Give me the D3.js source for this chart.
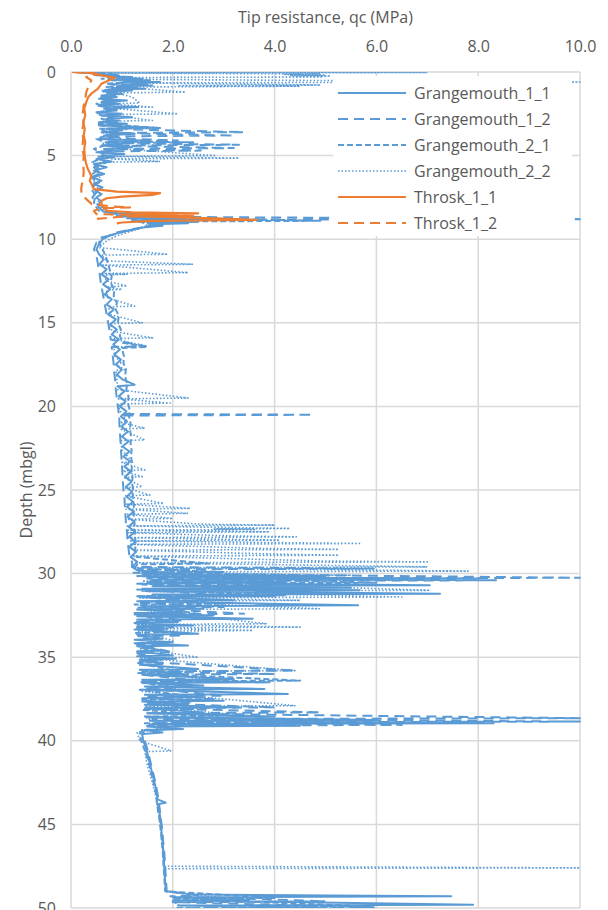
<!DOCTYPE html>
<html>
<head>
<meta charset="utf-8">
<script src="https://cdn.jsdelivr.net/npm/d3@7"></script>
<style>
  body { margin: 0; background: #fff; }
  svg text { font-family: "Open Sans", sans-serif; fill: #595959; }
</style>
</head>
<body>
<script>
// axis ticks
const xTicks = [0, 2, 4, 6, 8, 10];
const yTicks = [0, 5, 10, 15, 20, 25, 30, 35, 40, 45, 50];
const seriesNames = ["Grangemouth_1_1", "Grangemouth_1_2", "Grangemouth_2_1", "Grangemouth_2_2", "Throsk_1_1", "Throsk_1_2"];

// profiles, each point is [depth (m), qc (MPa)]
const grangemouth_1_1 = [
  [0.0,0.05],[0.05,0.3],[0.1,0.6],[0.15,0.45],[0.2,0.9],[0.25,0.7],[0.3,1.2],[0.35,0.9],[0.4,1.4],[0.45,1.0],
  [0.5,1.55],[0.55,1.1],[0.6,1.75],[0.65,1.2],[0.7,1.5],[0.75,1.0],[0.8,1.6],[0.85,0.9],[0.9,1.3],[0.95,0.8],
  [1.0,1.45],[1.05,0.75],[1.1,1.2],[1.2,0.7],[1.3,1.0],[1.4,0.6],[1.5,0.9],[1.6,0.55],[1.7,1.1],[1.8,0.6],
  [1.9,0.95],[2.0,0.55],[2.1,1.3],[2.2,0.65],[2.3,0.9],[2.4,0.5],[2.5,1.0],[2.6,0.6],[2.7,1.2],[2.8,0.7],
  [2.9,0.95],[3.0,0.55],[3.1,1.1],[3.2,0.6],[3.3,1.5],[3.4,0.7],[3.5,1.0],[3.6,0.6],[3.7,1.25],[3.8,0.65],
  [3.9,0.9],[4.0,0.55],[4.1,1.4],[4.2,0.7],[4.3,1.0],[4.4,0.6],[4.5,1.2],[4.6,0.65],[4.7,0.9],[4.8,0.5],
  [4.9,1.05],[5.0,0.6],[5.1,0.85],[5.2,0.5],[5.35,0.8],[5.5,0.45],[5.7,0.7],[5.9,0.45],[6.1,0.65],[6.3,0.42],
  [6.5,0.6],[6.7,0.45],[6.9,0.62],[7.1,0.48],[7.3,0.6],[7.5,0.5],[7.7,0.58],[7.9,0.55],[8.1,0.65],[8.3,0.7],
  [8.45,0.9],[8.55,1.6],[8.6,0.9],[8.7,2.2],[8.75,1.1],[8.85,2.7],[8.9,1.2],[8.95,2.5],[9.0,1.5],[9.05,2.3],
  [9.1,1.6],[9.2,1.8],[9.3,1.4],[9.45,1.2],[9.6,0.95],[9.8,0.75],[10.0,0.62],[10.3,0.55],[10.6,0.5],
  [10.9,0.55],[11.2,0.64],[11.5,0.56],[11.8,0.7],[12.1,0.6],[12.4,0.74],[12.7,0.63],[13.0,0.77],[13.3,0.66],
  [13.6,0.8],[13.9,0.7],[14.2,0.84],[14.5,0.73],[14.8,0.88],[15.1,0.77],[15.4,0.9],[15.7,0.8],[16.0,0.94],
  [16.3,0.83],[16.6,0.96],[16.9,0.85],[17.2,0.98],[17.5,0.88],[17.8,1.0],[18.1,0.9],[18.4,1.02],[18.7,1.25],
  [18.8,0.92],[19.1,1.05],[19.4,0.94],[19.7,1.07],[20.0,0.96],[20.3,1.09],[20.6,0.98],[20.9,1.1],[21.2,0.99],
  [21.5,1.12],[21.8,1.0],[22.1,1.13],[22.4,1.01],[22.7,1.15],[23.0,1.03],[23.3,1.16],[23.6,1.05],[23.9,1.18],
  [24.2,1.06],[24.5,1.19],[24.8,1.08],[25.1,1.2],[25.4,1.09],[25.7,1.22],[26.0,1.1],[26.3,1.23],[26.6,1.11],
  [26.9,1.24],[27.2,1.13],[27.5,1.26],[27.8,1.14],[28.1,1.27],[28.4,1.15],[28.7,1.28],[29.0,1.17],[29.3,1.3],
  [29.6,1.2],[29.8,1.3],
  [30.0,2.0],[30.05,1.4],[30.15,5.0],[30.2,1.5],[30.3,8.0],[30.35,1.6],[30.5,4.2],[30.55,1.5],[30.7,7.05],[30.75,1.6],
  [30.85,5.5],[30.9,1.4],[31.0,5.67],[31.05,1.5],[31.2,7.25],[31.25,1.6],[31.35,4.0],[31.4,1.4],[31.6,3.2],[31.65,1.3],
  [31.9,5.64],[31.95,1.4],[32.1,2.6],[32.15,1.3],[32.3,2.2],[32.35,1.25],[32.5,2.8],[32.55,1.3],[32.7,3.57],[32.75,1.3],
  [32.9,2.1],[32.95,1.25],[33.1,2.4],[33.15,1.3],[33.3,1.9],[33.35,1.25],[33.6,2.5],[33.65,1.3],[33.9,1.8],[33.95,1.25],
  [34.1,2.0],[34.15,1.3],[34.3,2.3],[34.35,1.3],[34.6,1.8],[34.65,1.3],[34.9,2.0],[34.95,1.3],[35.1,2.06],[35.15,1.35],
  [35.4,1.8],[35.45,1.35],[35.7,2.5],[35.75,1.35],[36.0,2.2],[36.05,1.4],[36.3,3.2],[36.35,1.4],[36.5,3.9],[36.55,1.4],
  [36.7,2.6],[36.75,1.45],[36.9,3.8],[36.95,1.4],[37.2,4.26],[37.25,1.45],[37.4,2.5],[37.45,1.4],[37.6,3.0],[37.65,1.4],
  [37.8,2.3],[37.85,1.45],[38.0,3.3],[38.05,1.45],[38.3,2.6],[38.35,1.5],[38.55,4.0],[38.6,1.5],[38.75,6.0],[38.8,1.55],
  [38.95,8.3],[39.0,1.6],[39.1,4.5],[39.15,1.5],[39.3,2.2],[39.35,1.45],[39.5,1.8],[39.6,1.4],
  [40.0,1.42],[40.5,1.48],[41.0,1.52],[41.5,1.56],[42.0,1.6],[42.5,1.64],[43.0,1.68],[43.5,1.7],[43.7,1.86],[43.8,1.7],
  [44.0,1.72],[44.5,1.75],[45.0,1.77],[45.5,1.78],[46.0,1.8],[46.5,1.81],[47.0,1.82],[47.5,1.83],[48.0,1.84],[48.5,1.85],
  [49.0,1.87],[49.2,2.4],[49.3,7.47],[49.35,2.0],[49.5,3.5],[49.55,2.0],[49.8,7.9],[49.85,2.1],[50.0,5.0]
];

const grangemouth_1_2 = [
  [0.0,0.1],[0.1,0.5],[0.2,1.0],[0.3,0.7],[0.4,1.3],[0.5,0.8],[0.6,1.2],[0.7,0.75],[0.8,1.1],[0.9,0.7],
  [1.0,1.0],[1.2,0.6],[1.4,0.9],[1.6,0.55],[1.8,0.85],[2.0,0.5],[2.2,0.9],[2.4,0.55],[2.6,1.0],[2.8,0.6],
  [3.0,0.9],[3.2,0.55],[3.35,1.75],[3.4,0.7],[3.6,3.4],[3.65,0.8],[3.8,3.2],[3.85,0.7],[4.0,1.2],[4.1,2.1],
  [4.15,0.7],[4.2,2.4],[4.25,0.8],[4.35,3.3],[4.4,0.7],[4.55,3.2],[4.6,0.7],[4.7,2.55],[4.75,0.6],[4.9,0.9],
  [5.1,0.5],[5.4,0.7],[5.7,0.45],[6.0,0.6],[6.3,0.4],[6.6,0.55],[6.9,0.4],[7.2,0.5],[7.5,0.42],[7.8,0.5],
  [8.1,0.55],[8.4,0.65],[8.6,1.5],[8.65,0.9],[8.8,10],[8.85,1.2],[8.95,2.4],[9.05,1.5],[9.2,1.6],[9.4,1.2],
  [9.6,0.9],[9.9,0.65],[10.2,0.5],[10.6,0.45],
  [11.0,0.5],[11.5,0.53],[12.0,0.56],[12.5,0.58],[13.0,0.61],[13.5,0.64],[14.0,0.67],[14.5,0.7],[15.0,0.73],
  [15.5,0.76],[16.0,0.78],[16.4,1.45],[16.45,0.8],[17.0,0.82],[17.5,0.84],[18.0,0.85],[18.5,0.87],[19.0,0.88],
  [19.5,0.9],[20.0,0.92],[20.45,0.94],[20.5,4.75],[20.55,0.95],[21.0,0.95],[21.5,0.96],[22.0,0.97],[22.5,0.98],
  [23.0,0.99],[23.5,1.0],[24.0,1.01],[24.5,1.02],[25.0,1.03],[25.5,1.05],[26.0,1.06],[26.5,1.07],[27.0,1.08],
  [27.5,1.1],[28.0,1.11],[28.5,1.13],[29.0,1.15],[29.3,1.2],
  [29.6,1.2],[29.7,5.95],[29.75,1.3],[29.9,2.7],[30.0,1.4],[30.25,10],[30.3,1.5],[30.4,8.35],[30.45,1.5],[30.6,4.5],
  [30.65,1.4],[30.9,3.5],[30.95,1.4],[31.3,3.0],[31.35,1.3],[31.7,2.5],[31.75,1.3],[32.0,3.0],[32.05,1.3],[32.4,3.4],
  [32.45,1.3],[32.8,2.2],[32.85,1.25],[33.2,2.0],[33.25,1.25],[33.7,2.2],[33.75,1.3],[34.2,1.9],[34.25,1.3],[34.7,2.0],
  [34.75,1.3],[35.2,1.8],[35.25,1.35],[35.8,4.4],[35.85,1.4],[36.0,4.0],[36.05,1.4],[36.4,2.5],[36.45,1.4],[36.8,2.2],
  [36.85,1.45],[37.3,3.0],[37.35,1.45],[37.7,2.4],[37.75,1.45],[38.0,4.0],[38.05,1.5],[38.3,4.9],[38.35,1.5],[38.65,10],
  [38.7,1.6],[38.85,10],[38.9,1.6],[39.05,6.5],[39.1,1.5],[39.3,2.1],[39.35,1.45],[39.6,1.4],
  [40.0,1.45],[40.5,1.5],[41.0,1.54],[41.5,1.58],[42.0,1.62],[42.5,1.66],[43.0,1.69],[43.5,1.72],[44.0,1.74],
  [44.5,1.76],[45.0,1.78],[45.5,1.8],[46.0,1.81],[46.5,1.83],[47.0,1.84],[47.5,1.85],[48.0,1.86],[48.5,1.87],
  [49.0,1.88],[49.25,2.5],[49.3,1.95],[49.6,5.0],[49.65,2.0],[49.95,5.95],[50.0,2.2]
];

const grangemouth_2_1 = [
  [0.0,0.2],[0.1,0.8],[0.2,0.5],[0.3,1.1],[0.4,0.6],[0.55,1.3],[0.7,0.7],[0.9,1.2],[1.1,0.6],[1.3,1.0],
  [1.5,0.55],[1.7,0.9],[1.9,0.5],[2.2,0.8],[2.5,0.5],[2.8,0.85],[3.1,0.5],[3.35,1.75],[3.4,0.55],[3.7,0.8],
  [4.0,0.5],[4.3,0.75],[4.6,0.45],[5.0,0.7],[5.4,0.42],[5.8,0.55],[6.2,0.38],[6.6,0.5],[7.0,0.4],[7.4,0.48],
  [7.8,0.45],[8.1,0.5],[8.3,0.55],[8.5,0.9],[8.6,2.0],[8.65,1.0],[8.9,4.9],[8.95,1.3],[9.1,1.7],[9.3,1.4],
  [9.5,1.1],[9.7,0.85],[9.9,0.6],[10.2,0.55],[10.6,0.62],[11.0,0.68],[11.4,0.72],[11.8,0.76],[12.2,0.8],
  [12.6,0.78],[13.0,0.85],[13.4,0.84],[13.8,0.9],[14.2,0.88],[14.6,0.94],[15.0,0.92],[15.4,0.98],[15.8,0.96],
  [16.2,1.02],[16.45,1.5],[16.5,1.0],[17.0,1.04],[17.4,1.03],[17.8,1.08],[18.2,1.06],[18.6,1.1],[19.0,1.09],
  [19.4,1.13],[19.8,1.12],[20.2,1.15],[20.6,1.14],[21.0,1.17],[21.4,1.16],[21.8,1.18],[22.2,1.17],[22.6,1.19],
  [23.0,1.18],[23.4,1.2],[23.8,1.19],[24.2,1.21],[24.6,1.2],[25.0,1.22],[25.4,1.21],[25.8,1.23],[26.2,1.24],
  [26.6,1.23],[27.0,1.25],[27.4,1.24],[27.8,1.26],[28.2,1.27],[28.6,1.26],[29.0,1.29],[29.4,2.7],[29.45,1.3],
  [29.7,1.25],[29.9,3.0],[29.95,1.2],[30.1,4.5],[30.15,1.3],
  [30.55,6.0],[30.6,1.3],[30.9,3.9],[30.95,1.3],[31.3,4.2],[31.35,1.3],[31.8,3.0],[31.85,1.25],[32.4,2.5],
  [32.45,1.25],[32.9,2.0],[32.95,1.25],[33.5,1.9],[33.55,1.25],[34.1,1.7],[34.15,1.25],[34.7,1.6],[34.75,1.3],
  [35.3,1.7],[35.35,1.3],[35.9,2.2],[35.95,1.3],[36.4,4.5],[36.45,1.35],[36.9,2.0],[36.95,1.35],[37.5,2.8],
  [37.55,1.4],[38.1,2.4],[38.15,1.4],[38.5,2.9],[38.55,1.45],[38.9,4.8],[38.95,1.45],[39.3,2.0],[39.35,1.4],
  [39.6,1.35],[40.0,1.38],[40.5,1.44],[41.0,1.5],[41.5,1.54],[42.0,1.58],[42.5,1.62],[43.0,1.66],[43.5,1.68],
  [44.0,1.7],[44.5,1.73],[45.0,1.75],[45.5,1.77],[46.0,1.78],[46.5,1.8],[47.0,1.81],[47.5,1.82],[48.0,1.83],
  [48.5,1.84],[49.0,1.85],[49.4,4.0],[49.45,2.0],[49.9,5.9],[50.0,2.0]
];

const grangemouth_2_2 = [
  [0.0,0.3],[0.03,7.0],[0.06,0.5],[0.12,4.9],[0.15,4.2],[0.18,5.0],[0.21,4.3],[0.24,5.1],[0.27,4.4],[0.3,4.95],
  [0.33,1.0],[0.45,1.6],[0.6,10],[0.65,1.2],[0.78,4.9],[0.82,2.1],[0.85,4.5],[0.9,1.0],[1.2,2.25],[1.25,0.9],
  [1.5,1.2],[1.85,1.35],[1.9,0.7],[2.1,1.6],[2.15,0.7],[2.5,2.1],[2.55,0.7],[2.9,1.6],[2.95,0.6],[3.3,1.1],
  [3.6,0.6],[4.0,1.0],[4.3,0.6],[4.6,1.0],[5.0,2.85],[5.05,0.7],[5.15,3.3],[5.2,0.8],[5.35,1.75],[5.4,0.6],
  [5.8,0.5],[6.2,0.6],[6.6,0.45],[7.0,0.55],[7.4,0.45],[7.8,0.55],[8.2,0.6],[8.5,1.0],[8.7,2.5],[8.75,1.2],
  [8.9,2.0],[9.0,1.4],[9.2,1.5],[9.4,1.3],[9.6,1.1],[9.8,0.9],[10.1,0.7],[10.5,0.55],[10.9,1.9],[10.95,0.6],
  [11.3,0.7],[11.5,2.4],[11.55,0.62],[12.0,2.3],[12.05,0.65],[12.1,1.1],[12.15,0.65],[12.5,0.7],[12.8,1.1],
  [12.85,0.68],[13.0,1.0],[13.05,0.7],[13.5,0.72],[14.0,1.25],[14.05,0.74],[14.5,0.76],[15.0,1.4],[15.05,0.78],
  [15.5,0.8],[15.9,1.6],[15.95,0.82],[16.4,1.5],[16.45,0.84],[17.0,0.86],[17.4,1.0],[17.45,0.86],[17.8,1.05],
  [17.85,0.88],[18.3,0.9],[19.0,0.92],[19.5,2.3],[19.55,0.93],[19.8,1.95],[19.85,0.94],[20.2,0.95],[20.9,1.1],
  [20.95,0.96],[21.3,1.45],[21.35,0.97],[22.0,1.45],[22.05,0.98],[22.6,1.0],[23.3,1.2],[23.35,1.0],[23.8,1.45],
  [23.85,1.02],[24.2,1.4],[24.25,1.03],[24.8,1.4],[24.85,1.05],[25.3,1.55],[25.35,1.06],[25.8,1.82],[25.85,1.08],
  [26.1,2.34],[26.15,1.08],[26.4,2.3],[26.45,1.1],[26.7,2.0],[26.75,1.1],[27.05,2.6],[27.1,4.0],[27.15,1.1],
  [27.3,4.3],[27.33,2.8],[27.36,3.6],[27.4,1.12],[27.5,3.9],[27.55,1.12],[27.75,3.2],[27.8,4.43],[27.85,1.12],
  [28.0,4.1],[28.05,1.15],[28.2,5.7],[28.25,1.15],[28.5,3.8],[28.55,5.26],[28.6,1.2],[28.85,4.2],[28.9,5.26],
  [28.95,1.2],[29.25,5.0],[29.3,7.0],[29.35,1.25],[29.55,6.0],[29.6,7.0],[29.65,1.25],[29.85,7.8],[29.9,1.3],
  [30.1,5.5],[30.15,1.4],[30.4,6.8],[30.45,1.4],[31.0,7.05],[31.05,1.4],[31.4,6.5],[31.45,1.35],[31.6,4.5],
  [31.65,1.35],[32.1,4.88],[32.15,1.3],[33.0,3.85],[33.05,1.3],[33.2,4.5],[33.25,1.3],[33.4,3.57],[33.45,1.3],
  [34.0,2.0],[34.5,1.35],[35.0,2.5],[35.05,1.35],[35.8,4.4],[35.85,1.4],[36.3,2.8],[36.35,1.4],[37.0,2.2],
  [37.05,1.4],[37.9,4.4],[37.95,1.45],[38.5,3.5],[38.55,1.45],[39.2,1.8],[39.5,1.3],[40.0,1.35],[40.6,1.97],
  [40.65,1.45],[41.5,1.5],[42.5,1.6],[43.5,1.68],[44.5,1.73],[45.5,1.77],[46.5,1.8],[47.5,1.82],[47.6,10],
  [47.65,1.83],[48.5,1.85],[49.0,1.87],[49.4,3.0],[49.6,2.0],[50.0,2.2]
];

const throsk_1_1 = [
  [0.0,0.02],[0.05,0.43],[0.2,0.6],[0.35,0.86],[0.5,0.75],[0.7,0.6],[1.0,0.53],[1.3,0.4],[1.5,0.34],[1.8,0.3],
  [2.2,0.26],[2.6,0.28],[3.0,0.24],[3.4,0.27],[3.8,0.25],[4.2,0.28],[4.6,0.26],[5.0,0.27],[5.4,0.29],[5.8,0.33],
  [6.2,0.4],[6.5,0.37],[6.8,0.42],[7.0,0.45],[7.15,0.9],[7.25,1.75],[7.35,1.6],[7.45,1.0],[7.55,0.7],[7.7,0.6],
  [7.9,0.6],[8.1,0.63],[8.3,0.7],[8.4,1.2],[8.45,2.5],[8.5,1.3],[8.6,1.1],[8.75,2.8],[8.85,3.65],[8.9,1.6],
  [9.0,1.0],[9.05,0.9]
];

const throsk_1_2 = [
  [0.0,0.05],[0.05,0.35],[0.15,0.5],[0.3,0.3],[0.5,0.4],[0.8,0.35],[1.2,0.3],[1.6,0.28],[2.0,0.25],[2.5,0.23],
  [3.0,0.25],[3.5,0.22],[4.0,0.24],[4.5,0.22],[5.0,0.25],[5.5,0.24],[6.0,0.25],[6.3,0.24],[6.6,0.22],[7.0,0.2],
  [7.3,0.21],[7.6,0.3],[7.9,0.41],[8.05,0.83],[8.1,1.16],[8.15,0.6],[8.3,0.45],[8.5,0.5],[8.6,2.4],[8.65,1.0],
  [8.8,0.47],[9.0,0.5]
];

const blue = "#5b9bd5";
const orange = "#ed7d31";

// series table for drawing
const series = [
  {name: seriesNames[0], data: grangemouth_1_1, color: blue, dash: null, w: 2},
  {name: seriesNames[1], data: grangemouth_1_2, color: blue, dash: "10,6", w: 2},
  {name: seriesNames[2], data: grangemouth_2_1, color: blue, dash: "6,3", w: 2},
  {name: seriesNames[3], data: grangemouth_2_2, color: blue, dash: "1.5,2", w: 1.6},
  {name: seriesNames[4], data: throsk_1_1, color: orange, dash: null, w: 2.2},
  {name: seriesNames[5], data: throsk_1_2, color: orange, dash: "10,6", w: 2.2}
];

const svgWidth = 608, svgHeight = 910;
const plot = {left: 71, right: 580, top: 72, bottom: 908};

const x = d3.scaleLinear().domain([0, 10]).range([plot.left, plot.right]);
const y = d3.scaleLinear().domain([0, 50]).range([plot.top, plot.bottom]);

const svg = d3.select("body").append("svg")
    .attr("width", svgWidth)
    .attr("height", svgHeight);

// gridlines
svg.append("g").selectAll("line").data(xTicks).join("line")
    .attr("x1", d => x(d)).attr("x2", d => x(d))
    .attr("y1", plot.top).attr("y2", plot.bottom)
    .style("stroke", "#d9d9d9").style("stroke-width", 1.5);
svg.append("g").selectAll("line").data(yTicks).join("line")
    .attr("x1", plot.left).attr("x2", plot.right)
    .attr("y1", d => y(d)).attr("y2", d => y(d))
    .style("stroke", "#d9d9d9").style("stroke-width", 1.5);

// axes (labels only)
const xAxis = d3.axisTop(x).tickValues(xTicks).tickFormat(d3.format(".1f")).tickSize(0).tickPadding(20);
const yAxis = d3.axisLeft(y).tickValues(yTicks).tickSize(0).tickPadding(15);

const gx = svg.append("g").attr("transform", `translate(0,${plot.top})`).call(xAxis);
const gy = svg.append("g").attr("transform", `translate(${plot.left},0)`).call(yAxis);
[gx, gy].forEach(g => {
  g.select(".domain").remove();
  g.selectAll("text").style("font-size", "16px").style("font-family", "'Open Sans', sans-serif").attr("fill", "#595959");
});

svg.append("text")
    .attr("x", (plot.left + plot.right) / 2)
    .attr("y", 23)
    .attr("text-anchor", "middle")
    .style("font-size", "16px")
    .text("Tip resistance, qc (MPa)");

svg.append("text")
    .attr("transform", `translate(32,${(plot.top + plot.bottom) / 2}) rotate(-90)`)
    .attr("text-anchor", "middle")
    .style("font-size", "16px")
    .text("Depth (mbgl)");

// clip to plot area
svg.append("clipPath").attr("id", "clip")
  .append("rect")
    .attr("x", plot.left).attr("y", plot.top)
    .attr("width", plot.right - plot.left + 1).attr("height", plot.bottom - plot.top);

const lineFn = d3.line()
    .x(d => x(d[1]))
    .y(d => y(d[0]));

const lines = svg.append("g").attr("clip-path", "url(#clip)");
series.forEach(s => {
  lines.append("path")
      .attr("d", lineFn(s.data))
      .style("fill", "none")
      .style("stroke", s.color)
      .style("stroke-width", s.w)
      .style("stroke-dasharray", s.dash)
      .style("stroke-linejoin", "round");
});

// legend
const legend = svg.append("g");
legend.append("rect")
    .attr("x", 333).attr("y", 76)
    .attr("width", 239).attr("height", 160)
    .style("fill", "#fff");

series.forEach((s, i) => {
  const ly = 93 + i * 26;
  legend.append("line")
      .attr("x1", 338).attr("x2", 406)
      .attr("y1", ly).attr("y2", ly)
      .style("stroke", s.color)
      .style("stroke-width", s.w)
      .style("stroke-dasharray", s.dash);
  legend.append("text")
      .attr("x", 414).attr("y", ly)
      .attr("dy", "0.35em")
      .style("font-size", "16px")
      .text(s.name);
});
</script>
</body>
</html>
